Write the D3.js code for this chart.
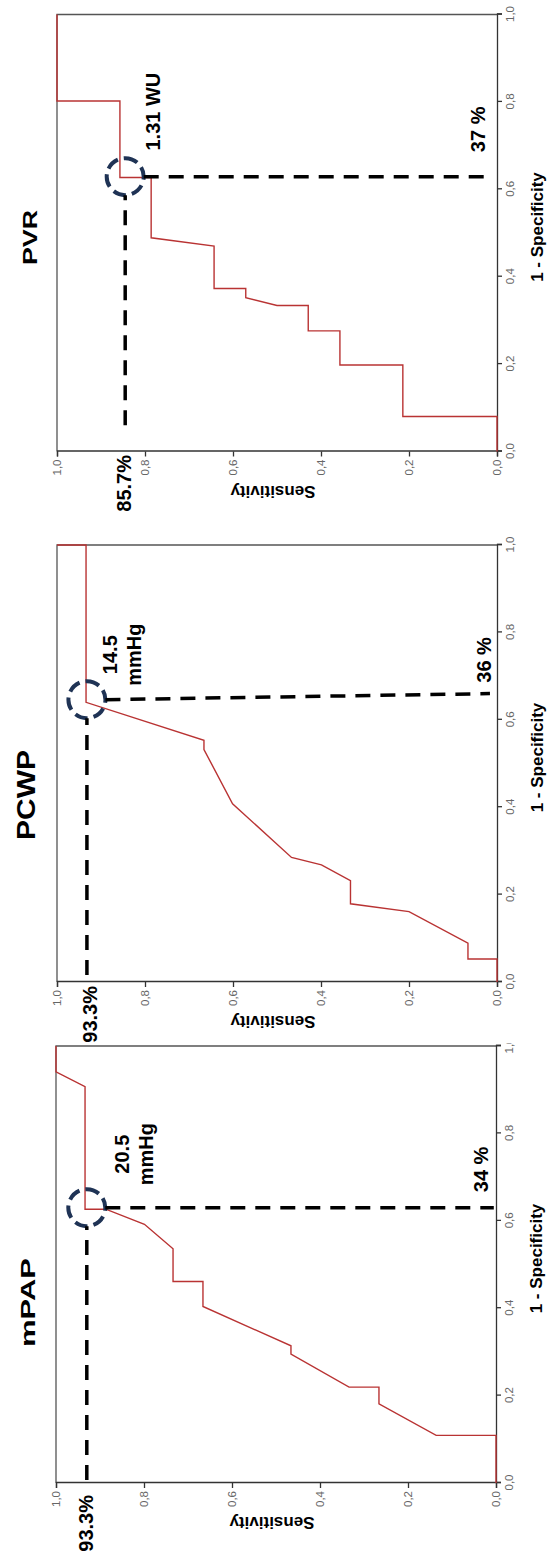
<!DOCTYPE html>
<html>
<head>
<meta charset="utf-8">
<title>ROC curves</title>
<script src="https://cdn.jsdelivr.net/npm/d3@7"></script>
<style>
body{margin:0;background:#fff;}
svg{display:block;}
text{font-family:"Liberation Sans",Arial,sans-serif;}
</style>
</head>
<body>
<svg id="chart" width="550" height="1557"></svg>
<script>
// ---- values ----
var panelNames = ["mPAP", "PCWP", "PVR"];

var mpapFpr  = [0, 0.109, 0.109, 0.181, 0.2195, 0.2195, 0.295, 0.314, 0.404, 0.461, 0.461, 0.536, 0.592, 0.6265, 0.6265, 0.907, 0.941, 1.0];
var mpapSens = [0, 0,     0.136, 0.266, 0.266,  0.334,  0.466, 0.466, 0.666, 0.666, 0.734, 0.734, 0.799, 0.887,  0.934,  0.934, 1.0,   1.0];

var pcwpFpr  = [0, 0.0525, 0.0525, 0.089, 0.161, 0.179, 0.232, 0.268, 0.285, 0.408, 0.532, 0.553, 0.640, 1.0,   1.0];
var pcwpSens = [0, 0,      0.066,  0.066, 0.200, 0.333, 0.333, 0.399, 0.467, 0.601, 0.666, 0.666, 0.934, 0.934, 1.0];

var pvrFpr  = [0, 0.080, 0.080, 0.198, 0.198, 0.276, 0.276, 0.334, 0.334, 0.352, 0.373, 0.373, 0.470, 0.489, 0.627, 0.627, 0.802, 0.802, 1.0];
var pvrSens = [0, 0,     0.214, 0.214, 0.357, 0.357, 0.429, 0.429, 0.500, 0.571, 0.571, 0.643, 0.643, 0.786, 0.786, 0.857, 0.857, 1.0,   1.0];

var tickValues = [0, 0.2, 0.4, 0.6, 0.8, 1.0];
var tickLabels = ["0,0", "0,2", "0,4", "0,6", "0,8", "1,0"];

// cut-off points (circle) and their labels
var cutFpr     = [0.630, 0.646, 0.629];
var cutSens    = [0.930, 0.932, 0.845];
var cutValue   = [["20.5", "mmHg"], ["14.5", "mmHg"], ["1.31 WU"]];
var specLabels = ["34 %", "36 %", "37 %"];
var sensLabels = ["93.3%", "93.3%", "85.7%"];
// dashed guides
var hGuideStart  = [0.007, 0.016, 0.060];   // fpr where the sensitivity guide begins
var vGuideEndFpr = [0.630, 0.660, 0.629];   // fpr at the lower end (PCWP leans)
var vGuideEndSen = [0.005, 0.016, 0.023];

// ---- layout (unrotated coordinates, the whole thing is turned -90deg) ----
var W = 437, H = 440;
var panelX = [74, 575, 1105.5];
var panelY = [56, 57, 57];
var circleR = 18.5;
var titleDX = [180.5, 187, 214], titleY = [35, 35, 37], titleSize = [21, 25, 20], titleLen = [89, 90, 55];
var valueDX = [53.5, 45, 65], valueDY = [42, 30, 35];
var specDX = [15.5, 17, 24.5], specDY = [-8, -6, -12];
var sensEndDX = [-12, -4, -3.5], sensDY = [6, 10, 6];

var curves = [
  {fpr: mpapFpr, sens: mpapSens},
  {fpr: pcwpFpr, sens: pcwpSens},
  {fpr: pvrFpr, sens: pvrSens}
];

var svg = d3.select("#chart");
var defs = svg.append("defs");
defs.append("clipPath").attr("id", "clipM")
    .append("rect").attr("x", -20).attr("y", -20).attr("width", 534).attr("height", 600);

var root = svg.append("g").attr("transform", "translate(0,1557) rotate(-90)");

panelNames.forEach(function(name, i){
  var x0 = panelX[i], y0 = panelY[i];
  var x = d3.scaleLinear().domain([0, 1]).range([x0, x0 + W]);
  var y = d3.scaleLinear().domain([0, 1]).range([y0 + H, y0]);

  var g = root.append("g");
  if (i === 0) g.attr("clip-path", "url(#clipM)");

  // frame (top and right)
  g.append("path")
   .attr("d", "M" + x(0) + "," + y(1) + "H" + x(1) + "V" + y(0))
   .attr("fill", "none").attr("stroke", "#555").attr("stroke-width", 1.3);

  var xAxis = d3.axisBottom(x).tickValues(tickValues)
      .tickFormat(function(d, k){ return tickLabels[k]; })
      .tickSize(5).tickPadding(4);
  var yAxis = d3.axisLeft(y).tickValues(tickValues)
      .tickFormat(function(d, k){ return tickLabels[k]; })
      .tickSize(5).tickPadding(3);

  var gx = g.append("g").attr("transform", "translate(0," + y(0) + ")").call(xAxis);
  var gy = g.append("g").attr("transform", "translate(" + x(0) + ",0)").call(yAxis);
  [gx, gy].forEach(function(a){
    a.select(".domain").attr("stroke", "#333").attr("stroke-width", 1.3);
    a.selectAll(".tick line").attr("stroke", "#333").attr("stroke-width", 1.3);
    a.selectAll(".tick text").attr("fill", "#666").style("font-size", "11.5px")
      .style("font-family", "'Liberation Sans',Arial,sans-serif");
  });

  // ROC curve
  var line = d3.line().x(function(d){ return x(d[0]); }).y(function(d){ return y(d[1]); });
  var pts = curves[i].fpr.map(function(f, k){ return [f, curves[i].sens[k]]; });
  g.append("path").datum(pts).attr("d", line)
   .attr("fill", "none").attr("stroke", "#b93333").attr("stroke-width", 1.4);

  // cut-off marker
  var cx = x(cutFpr[i]), cy = y(cutSens[i]);
  g.append("circle").attr("cx", cx).attr("cy", cy).attr("r", circleR)
   .attr("fill", "none").attr("stroke", "#1f3355").attr("stroke-width", 4)
   .attr("stroke-dasharray", "13,6");

  // dashed guides
  g.append("line")
   .attr("x1", x(hGuideStart[i])).attr("y1", cy)
   .attr("x2", cx - circleR).attr("y2", cy)
   .attr("stroke", "#000").attr("stroke-width", 3.5).attr("stroke-dasharray", "15,10");
  g.append("line")
   .attr("x1", cx).attr("y1", cy + circleR)
   .attr("x2", x(vGuideEndFpr[i])).attr("y2", y(vGuideEndSen[i]))
   .attr("stroke", "#000").attr("stroke-width", 3.5).attr("stroke-dasharray", "15,10");

  // labels
  g.append("text").attr("x", x0 + titleDX[i]).attr("y", titleY[i])
   .attr("text-anchor", "middle").attr("font-weight", "bold")
   .attr("font-size", titleSize[i]).attr("textLength", titleLen[i])
   .attr("lengthAdjust", "spacingAndGlyphs").text(name);

  cutValue[i].forEach(function(t, k){
    g.append("text").attr("x", cx + valueDX[i]).attr("y", cy + valueDY[i] + k * 24)
     .attr("text-anchor", "middle").attr("font-weight", "bold").attr("font-size", 20).text(t);
  });
  g.append("text").attr("x", cx + specDX[i]).attr("y", y(0) + specDY[i])
   .attr("font-weight", "bold").attr("font-size", 20).text(specLabels[i]);
  g.append("text").attr("x", x0 + sensEndDX[i]).attr("y", cy + sensDY[i])
   .attr("text-anchor", "end").attr("font-weight", "bold").attr("font-size", 20).text(sensLabels[i]);

  // axis titles
  g.append("text").attr("x", x0 + W / 2 + 6).attr("y", y(0) + 46)
   .attr("text-anchor", "middle").attr("font-weight", "bold").attr("font-size", 17)
   .text("1 - Specificity");
  g.append("text")
   .attr("transform", "translate(" + (x0 - 34) + "," + (y0 + H / 2 - 4) + ") rotate(-90)")
   .attr("text-anchor", "middle").attr("font-weight", "bold").attr("font-size", 17)
   .text("Sensitivity");
});
</script>
</body>
</html>
